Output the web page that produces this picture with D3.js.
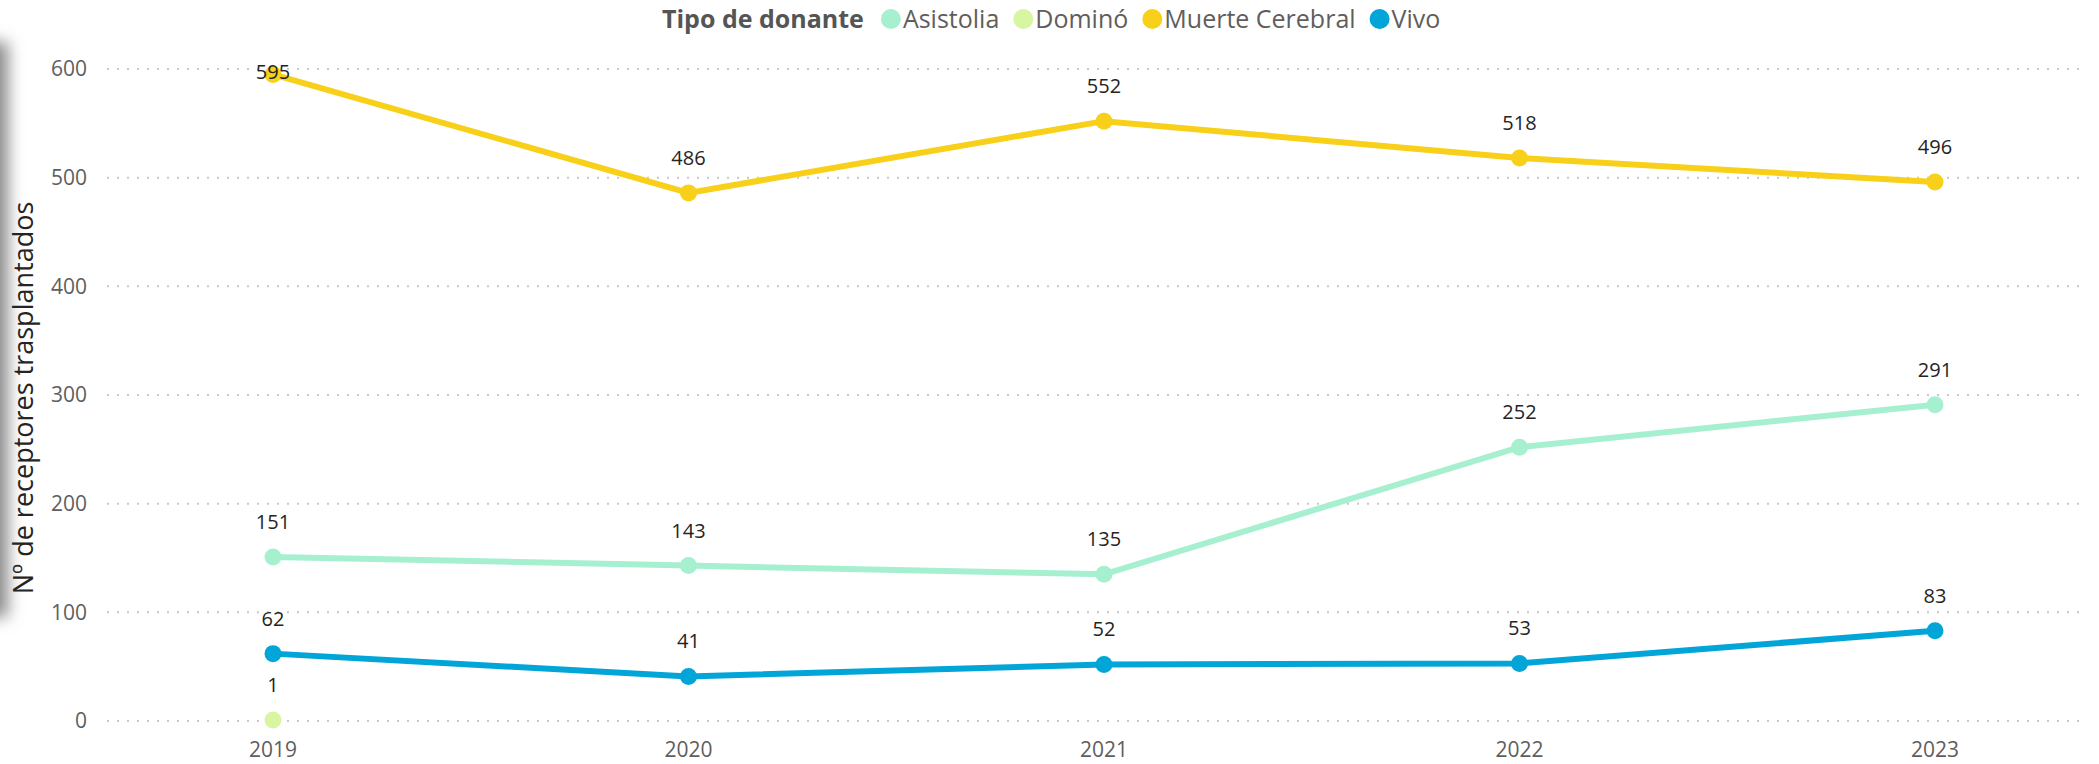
<html>
<head>
	<script src="https://cdn.jsdelivr.net/npm/d3@7"></script>
	<style type="text/css">
	body { margin: 0; background: #fff; }
	svg { display: block; font-family: "Open Sans", "Noto Sans", sans-serif; }
	</style>
</head>
<body>
<script type="text/javascript">
	// data
	var years = ["2019", "2020", "2021", "2022", "2023"];
	var seriesNames = ["Asistolia", "Dominó", "Muerte Cerebral", "Vivo"];
	var seriesColors = ["#a6f0d0", "#d8f5a2", "#f8d01a", "#02a5d8"];
	var asistolia = [151, 143, 135, 252, 291];
	var domino = [1, null, null, null, null];
	var muerteCerebral = [595, 486, 552, 518, 496];
	var vivo = [62, 41, 52, 53, 83];
	var yTicks = [0, 100, 200, 300, 400, 500, 600];

	var allValues = [asistolia, domino, muerteCerebral, vivo];

	//Width and height
	var w = 2099;
	var h = 764;

	var svg = d3.select("body")
		.append("svg")
		.attr("width", w)
		.attr("height", h);

	// left shadow
	var defs = svg.append("defs");
	defs.append("filter").attr("id", "blur")
		.attr("x", "-100%").attr("y", "-20%").attr("width", "300%").attr("height", "140%")
		.append("feGaussianBlur").attr("stdDeviation", 8);
	svg.append("rect")
		.attr("x", -30).attr("y", 42)
		.attr("width", 38).attr("height", 575)
		.attr("fill", "#8a8a8a")
		.attr("filter", "url(#blur)");

	var x = d3.scalePoint().domain(years).range([273, 1935]);
	var y = d3.scaleLinear().domain([0, 600]).range([721, 69]);

	// gridlines
	svg.append("g").selectAll("line")
		.data(yTicks)
		.enter().append("line")
		.attr("x1", 107).attr("x2", 2086)
		.attr("y1", function(d) { return y(d); })
		.attr("y2", function(d) { return y(d); })
		.attr("stroke", "#c8c8c8")
		.attr("stroke-width", 2)
		.attr("stroke-dasharray", "2,8");

	// y axis labels
	svg.append("g").selectAll("text")
		.data(yTicks)
		.enter().append("text")
		.text(function(d) { return d; })
		.attr("x", 87)
		.attr("y", function(d) { return y(d); })
		.attr("dy", "0.35em")
		.attr("text-anchor", "end")
		.attr("font-size", 21)
		.attr("fill", "#605e5c");

	// x axis labels
	svg.append("g").selectAll("text")
		.data(years)
		.enter().append("text")
		.text(function(d) { return d; })
		.attr("x", function(d) { return x(d); })
		.attr("y", 750)
		.attr("dy", "0.35em")
		.attr("text-anchor", "middle")
		.attr("font-size", 21)
		.attr("fill", "#605e5c");

	// axis title
	svg.append("text")
		.text("Nº de receptores trasplantados")
		.attr("transform", "translate(24,398) rotate(-90)")
		.attr("dy", "0.35em")
		.attr("text-anchor", "middle")
		.attr("font-size", 27)
		.attr("fill", "#252423");

	// lines and points
	var line = d3.line()
		.defined(function(d) { return d != null; })
		.x(function(d, i) { return x(years[i]); })
		.y(function(d) { return y(d); });

	allValues.forEach(function(vals, s) {
		var g = svg.append("g");
		g.append("path")
			.attr("d", line(vals))
			.attr("fill", "none")
			.attr("stroke", seriesColors[s])
			.attr("stroke-width", 6);
		vals.forEach(function(v, i) {
			if (v == null) return;
			g.append("circle")
				.attr("cx", x(years[i]))
				.attr("cy", y(v))
				.attr("r", 8.5)
				.attr("fill", seriesColors[s]);
		});
	});

	// data labels
	allValues.forEach(function(vals, s) {
		vals.forEach(function(v, i) {
			if (v == null) return;
			var ly = y(v) - 35;
			if (ly < 60) ly = y(v) - 2;
			svg.append("text")
				.text(v)
				.attr("x", x(years[i]))
				.attr("y", ly)
				.attr("dy", "0.35em")
				.attr("text-anchor", "middle")
				.attr("font-size", 20)
				.attr("fill", "#252423");
		});
	});

	// legend
	var lg = svg.append("g");
	var title = lg.append("text")
		.text("Tipo de donante")
		.attr("x", 662)
		.attr("y", 19)
		.attr("dy", "0.35em")
		.attr("font-size", 25)
		.attr("font-weight", "bold")
		.attr("fill", "#555");
	var cX = 662 + title.node().getComputedTextLength() + 27;
	seriesNames.forEach(function(name, s) {
		lg.append("circle")
			.attr("cx", cX)
			.attr("cy", 19)
			.attr("r", 10)
			.attr("fill", seriesColors[s]);
		var t = lg.append("text")
			.text(name)
			.attr("x", cX + 12)
			.attr("y", 19)
			.attr("dy", "0.35em")
			.attr("font-size", 25)
			.attr("fill", "#605e5c");
		cX = cX + 12 + t.node().getComputedTextLength() + 24;
	});
</script>
</body>
</html>
